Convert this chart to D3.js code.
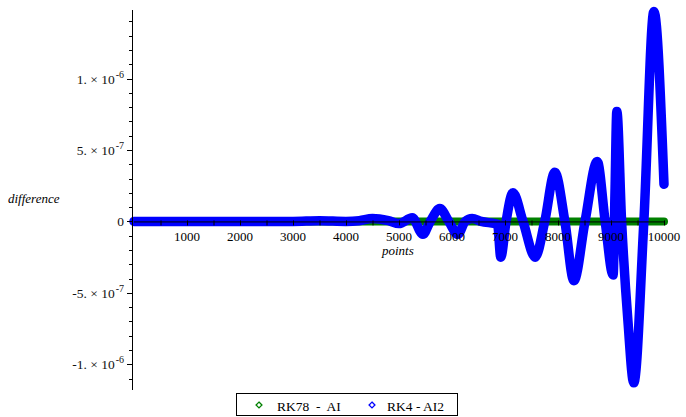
<!DOCTYPE html>
<html>
<head>
<meta charset="utf-8">
<script src="https://cdn.jsdelivr.net/npm/d3@7"></script>
<style>
  html, body { margin: 0; padding: 0; background: #fff; }
  text { font-family: "Liberation Serif", "DejaVu Serif", "Times New Roman", serif; }
</style>
</head>
<body>
<svg id="chart" width="686" height="417"></svg>
<script>
// ---- data ----
const xTickValues = [1000, 2000, 3000, 4000, 5000, 6000, 7000, 8000, 9000, 10000];
const xTickLabels = ["1000", "2000", "3000", "4000", "5000", "6000", "7000", "8000", "9000", "10000"];
const yTickValues = [-1e-6, -5e-7, 0, 5e-7, 1e-6];
const yTickMantissa = ["-1.", "-5.", "0", "5.", "1."];
const yTickExponent = ["-6", "-7", "", "-7", "-6"];

const seriesNames = ["RK78 - AI", "RK4 - AI2"];
const seriesColors = ["#008000", "#0000ff"];

// RK78 - AI : essentially zero everywhere
const greenX = [0, 2500, 5000, 7500, 10000];
const greenY = [0, 0, 0, 0, 0];

// RK4 - AI2 : growing oscillation (y in units of 1e-6)
const blueX = [0, 500, 1000, 1500, 2000, 2500, 3000, 3500, 4000, 4250, 4500, 4800, 5000,
  5250, 5450, 5590, 5770, 5940, 6110, 6250, 6380, 6550, 6860, 6920, 7020, 7150, 7340, 7570,
  7750, 7940, 8130, 8300, 8510, 8740, 8890, 9040, 9075, 9110, 9200, 9320, 9430, 9620, 9810, 10000];
const blueY = [0, 0, 0, 0, 0, 0, 0, 0.005, 0, 0.005, 0.02, 0.005, -0.015,
  0.025, -0.09, 0, 0.09, 0, -0.09, 0, 0.02, 0, -0.02, -0.25, 0, 0.2, 0, -0.25,
  0, 0.345, 0, -0.415, 0, 0.42, 0, -0.375, 0.2, 0.77, 0, -0.7, -1.13, 0, 1.47, 0.26];

// ---- drawing ----
const svg = d3.select("#chart");
const x = d3.scaleLinear().domain([0, 10000]).range([134, 664]);
const y = d3.scaleLinear().domain([-1.18e-6, 1.48e-6]).range([390, 10]);

const line = d3.line()
  .x(d => x(d[0]))
  .y(d => y(d[1]))
  .curve(d3.curveMonotoneX);

const greenData = greenX.map((v, i) => [v, greenY[i]]);
const blueData = blueX.map((v, i) => [v, blueY[i] * 1e-6]);

svg.append("path")
  .datum(greenData)
  .attr("d", line)
  .attr("fill", "none")
  .attr("stroke", seriesColors[0])
  .attr("stroke-width", 8)
  .attr("stroke-linecap", "round");

svg.append("path")
  .datum(blueData)
  .attr("d", line)
  .attr("fill", "none")
  .attr("stroke", seriesColors[1])
  .attr("stroke-width", 9.5)
  .attr("stroke-linecap", "round")
  .attr("stroke-linejoin", "round");

// x axis
const xMinor = d3.range(500, 10001, 500);
const xAxis = d3.axisBottom(x).tickValues(xMinor).tickSize(4).tickSizeOuter(0).tickFormat("");
const gx = svg.append("g").attr("transform", `translate(0,${y(0)})`).call(xAxis);
gx.select(".domain").attr("d", `M${x(0)},0.5H${x(10000)}`).attr("stroke", "#000");
gx.selectAll(".tick line").attr("stroke", "#000").attr("y1", -1);

svg.append("g").selectAll("text")
  .data(xTickValues)
  .join("text")
  .attr("x", d => x(d))
  .attr("y", y(0) + 19.5)
  .attr("text-anchor", "middle")
  .attr("font-family", "Liberation Serif, DejaVu Serif, serif")
  .attr("font-size", 13)
  .attr("fill", "#000")
  .text((d, i) => xTickLabels[i]);

// y axis
const yMinor = d3.range(-11, 15).map(k => k * 1e-7);
const yAxis = d3.axisLeft(y).tickValues(yMinor).tickSize(4).tickSizeOuter(0).tickFormat("");
const gy = svg.append("g").call(yAxis);
gy.select(".domain").attr("d", `M${x(0) - 1.5},${y.range()[1]}V${y.range()[0]}`).attr("stroke", "#000");
gy.selectAll(".tick").attr("transform", d => `translate(${x(0) - 1},${Math.round(y(d)) + 0.5})`);
gy.selectAll(".tick line").attr("stroke", "#000");
gy.selectAll(".tick").filter(d => Math.abs(Math.round(d * 1e7)) % 5 === 0)
  .select("line").attr("x2", -6);

const yl = svg.append("g").selectAll("text")
  .data(yTickValues)
  .join("text")
  .attr("x", 124)
  .attr("y", d => y(d) + 5)
  .attr("text-anchor", "end")
  .attr("font-family", "Liberation Serif, DejaVu Serif, serif")
  .attr("font-size", 13.5)
  .attr("fill", "#111");
yl.each(function (d, i) {
  const t = d3.select(this);
  if (yTickExponent[i] === "") {
    t.text(yTickMantissa[i]);
  } else {
    t.append("tspan").text(yTickMantissa[i] + " \u00d7 10");
    t.append("tspan").attr("font-size", 10).attr("dy", -6).attr("dx", 1).text(yTickExponent[i]);
  }
});

// axis titles
svg.append("text").attr("x", 8).attr("y", 203)
  .attr("font-family", "Liberation Serif, DejaVu Serif, serif")
  .attr("font-size", 13).attr("font-style", "italic").attr("fill", "#000")
  .text("difference");
svg.append("text").attr("x", 382).attr("y", 255)
  .attr("font-family", "Liberation Serif, DejaVu Serif, serif")
  .attr("font-size", 13).attr("font-style", "italic").attr("fill", "#000")
  .text("points");

// legend
const lg = svg.append("g");
lg.append("rect").attr("x", 236.5).attr("y", 393.5).attr("width", 221).attr("height", 22)
  .attr("fill", "#fff").attr("stroke", "#000").attr("stroke-width", 1);
const legendSymX = [259, 372];
const legendTextX = [277, 387];
seriesNames.forEach((name, i) => {
  lg.append("path")
    .attr("d", d3.symbol(d3.symbolDiamond2, 22)())
    .attr("transform", `translate(${legendSymX[i]},405)`)
    .attr("fill", "none")
    .attr("stroke", seriesColors[i])
    .attr("stroke-width", 1.3);
  lg.append("text").attr("x", legendTextX[i]).attr("y", 410.5)
    .attr("font-family", "Liberation Serif, DejaVu Serif, serif")
    .attr("font-size", 13.5).attr("fill", "#000")
    .attr("xml:space", "preserve")
    .text(i === 0 ? "RK78  -  AI" : "RK4 - AI2");
});
</script>
</body>
</html>
